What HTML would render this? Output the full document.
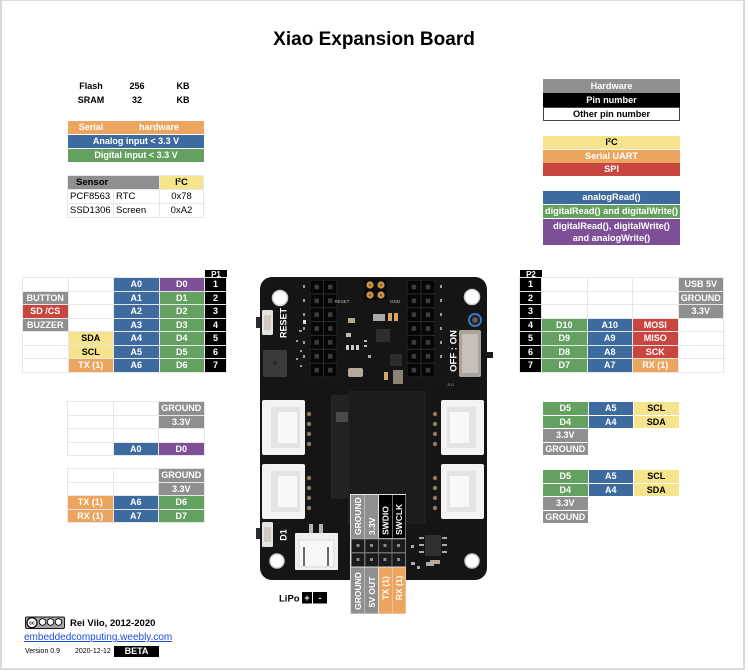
<!DOCTYPE html>
<html><head><meta charset="utf-8">
<style>
*{margin:0;padding:0;box-sizing:border-box}
body{width:748px;height:672px;background:#fff;position:relative;overflow:hidden;font-family:"Liberation Sans",Arial,sans-serif;color:#000}
.a{position:absolute}
.t{position:absolute;font-weight:bold;font-size:9px;text-align:center;white-space:nowrap}
.grid{position:absolute;display:grid;gap:1px;padding:1px;background:#e7e7e7}
.grid.nb{background:#fff}
.grid>div{background:#fff;font-weight:bold;font-size:9px;text-align:center;color:#fff;white-space:nowrap;overflow:hidden}
.o{background:#eba55e!important;color:#fff}
.b{background:#3d6b9f!important;color:#fff}
.g{background:#64a05f!important;color:#fff}
.p{background:#7d4f97!important;color:#fff}
.r{background:#c8463f!important;color:#fff}
.y{background:#f6e48c!important;color:#000!important}
.k{background:#000!important;color:#fff}
.h{background:#8f8f8f!important;color:#fff}
.bar{position:absolute;height:13px;line-height:13px;font-weight:bold;font-size:9px;text-align:center;color:#fff;white-space:nowrap}
</style></head><body>

<!-- frame -->
<div class="a" style="left:0;top:0;width:745px;height:670px;border-left:2px solid #dadada;border-top:1px solid #dadada;border-right:2px solid #dadada;border-bottom:2px solid #dadada"></div>

<!-- title -->
<div class="a" style="left:0;top:29px;width:748px;text-align:center;font-weight:bold;font-size:19px;line-height:22px">Xiao Expansion Board</div>

<!-- Flash / SRAM -->
<div class="t" style="left:68px;top:80px;width:46px;line-height:13px">Flash</div>
<div class="t" style="left:114px;top:80px;width:46px;line-height:13px">256</div>
<div class="t" style="left:160px;top:80px;width:46px;line-height:13px">KB</div>
<div class="t" style="left:68px;top:93.5px;width:46px;line-height:13px">SRAM</div>
<div class="t" style="left:114px;top:93.5px;width:46px;line-height:13px">32</div>
<div class="t" style="left:160px;top:93.5px;width:46px;line-height:13px">KB</div>

<!-- serial / analog / digital legend -->
<div class="bar o" style="left:68px;top:121px;width:136px"><span class="a" style="left:0;width:46px;text-align:center">Serial</span><span class="a" style="left:46px;width:90px;text-align:center">hardware</span></div>
<div class="bar b" style="left:68px;top:134.5px;width:136px">Analog input &lt; 3.3 V</div>
<div class="bar g" style="left:68px;top:148.5px;width:136px">Digital input &lt; 3.3 V</div>

<!-- sensor table -->
<div class="grid" style="left:67px;top:175px;grid-template-columns:45px 45px 43px;grid-auto-rows:13px;line-height:13px">
  <div class="h" style="grid-column:span 2;color:#000;text-align:left;padding-left:8px;font-size:9.5px">Sensor</div>
  <div class="y" style="font-size:9.5px">I²C</div>
  <div style="color:#000;font-weight:normal;text-align:left;padding-left:2px;font-size:9.5px">PCF8563</div>
  <div style="color:#000;font-weight:normal;text-align:left;padding-left:2px;font-size:9.5px">RTC</div>
  <div style="color:#000;font-weight:normal;font-size:9.5px">0x78</div>
  <div style="color:#000;font-weight:normal;text-align:left;padding-left:2px;font-size:9.5px">SSD1306</div>
  <div style="color:#000;font-weight:normal;text-align:left;padding-left:2px;font-size:9.5px">Screen</div>
  <div style="color:#000;font-weight:normal;font-size:9.5px">0xA2</div>
</div>

<!-- right legend -->
<div class="bar h" style="left:543px;top:79px;width:137px;height:14px;line-height:14px;font-size:9.2px">Hardware</div>
<div class="bar k" style="left:543px;top:93px;width:137px;height:14px;line-height:14px;font-size:9.2px">Pin number</div>
<div class="bar" style="left:543px;top:107px;width:137px;height:14px;line-height:12px;font-size:9.2px;color:#000;border:1px solid #444">Other pin number</div>

<div class="bar y" style="left:543px;top:136px;width:137px;font-size:9.2px">I²C</div>
<div class="bar o" style="left:543px;top:149.5px;width:137px;font-size:9.2px">Serial UART</div>
<div class="bar r" style="left:543px;top:163px;width:137px;font-size:9.2px">SPI</div>

<div class="bar b" style="left:543px;top:191px;width:137px;font-size:9.2px">analogRead()</div>
<div class="bar g" style="left:543px;top:204.5px;width:137px;font-size:9.2px">digitalRead() and digitalWrite()</div>
<div class="bar p" style="left:543px;top:218.5px;width:137px;height:26px;line-height:12px;padding-top:1px;font-size:9.2px">digitalRead(), digitalWrite()<br>and analogWrite()</div>

<!-- P1 table -->
<div class="bar k" style="left:205px;top:270px;width:22px;height:8.5px;line-height:9px;font-size:8px">P1</div>
<div class="grid" style="left:22px;top:277px;grid-template-columns:44.5px 44.5px 44.5px 44.5px 21px;grid-auto-rows:12.57px;line-height:12.6px">
  <div></div><div></div><div class="b">A0</div><div class="p">D0</div><div class="k">1</div>
  <div class="h">BUTTON</div><div></div><div class="b">A1</div><div class="g">D1</div><div class="k">2</div>
  <div class="r">SD /CS</div><div></div><div class="b">A2</div><div class="g">D2</div><div class="k">3</div>
  <div class="h">BUZZER</div><div></div><div class="b">A3</div><div class="g">D3</div><div class="k">4</div>
  <div></div><div class="y">SDA</div><div class="b">A4</div><div class="g">D4</div><div class="k">5</div>
  <div></div><div class="y">SCL</div><div class="b">A5</div><div class="g">D5</div><div class="k">6</div>
  <div></div><div class="o">TX (1)</div><div class="b">A6</div><div class="g">D6</div><div class="k">7</div>
</div>

<!-- P2 table -->
<div class="bar k" style="left:520px;top:270px;width:22px;height:8.5px;line-height:9px;font-size:8px">P2</div>
<div class="grid" style="left:519px;top:277px;grid-template-columns:21px 44.5px 44.5px 44.5px 44.5px;grid-auto-rows:12.57px;line-height:12.6px">
  <div class="k">1</div><div></div><div></div><div></div><div class="h">USB 5V</div>
  <div class="k">2</div><div></div><div></div><div></div><div class="h">GROUND</div>
  <div class="k">3</div><div></div><div></div><div></div><div class="h">3.3V</div>
  <div class="k">4</div><div class="g">D10</div><div class="b">A10</div><div class="r">MOSI</div><div></div>
  <div class="k">5</div><div class="g">D9</div><div class="b">A9</div><div class="r">MISO</div><div></div>
  <div class="k">6</div><div class="g">D8</div><div class="b">A8</div><div class="r">SCK</div><div></div>
  <div class="k">7</div><div class="g">D7</div><div class="b">A7</div><div class="o">RX (1)</div><div></div>
</div>

<!-- left grove tables -->
<div class="grid" style="left:67px;top:401px;grid-template-columns:44.5px 44.5px 44.5px;grid-auto-rows:12.5px;line-height:12.5px">
  <div></div><div></div><div class="h">GROUND</div>
  <div></div><div></div><div class="h">3.3V</div>
  <div></div><div></div><div></div>
  <div></div><div class="b">A0</div><div class="p">D0</div>
</div>
<div class="grid" style="left:67px;top:468px;grid-template-columns:44.5px 44.5px 44.5px;grid-auto-rows:12.5px;line-height:12.5px">
  <div></div><div></div><div class="h">GROUND</div>
  <div></div><div></div><div class="h">3.3V</div>
  <div class="o">TX (1)</div><div class="b">A6</div><div class="g">D6</div>
  <div class="o">RX (1)</div><div class="b">A7</div><div class="g">D7</div>
</div>

<!-- right grove tables -->
<div class="grid nb" style="left:542px;top:401px;grid-template-columns:44.5px 44.5px 44.5px;grid-auto-rows:12.5px;line-height:12.5px">
  <div class="g">D5</div><div class="b">A5</div><div class="y">SCL</div>
  <div class="g">D4</div><div class="b">A4</div><div class="y">SDA</div>
  <div class="h">3.3V</div><div></div><div></div>
  <div class="h">GROUND</div><div></div><div></div>
</div>
<div class="grid nb" style="left:542px;top:469px;grid-template-columns:44.5px 44.5px 44.5px;grid-auto-rows:12.5px;line-height:12.5px">
  <div class="g">D5</div><div class="b">A5</div><div class="y">SCL</div>
  <div class="g">D4</div><div class="b">A4</div><div class="y">SDA</div>
  <div class="h">3.3V</div><div></div><div></div>
  <div class="h">GROUND</div><div></div><div></div>
</div>

<!-- board -->
<svg class="a" style="left:0;top:0" width="748" height="672" viewBox="0 0 748 672" font-family="Liberation Sans, Arial, sans-serif">
  <defs>
    <pattern id="sockL" x="310" y="280" width="13.5" height="13.86" patternUnits="userSpaceOnUse">
      <rect x="0" y="0" width="13.5" height="13.86" fill="#060606" stroke="#2a2a2a" stroke-width="1"/>
      <rect x="4.5" y="4.7" width="4.5" height="4.5" fill="#3d3d3d"/>
    </pattern>
    <pattern id="sockR" x="407" y="280" width="14" height="13.86" patternUnits="userSpaceOnUse">
      <rect x="0" y="0" width="14" height="13.86" fill="#060606" stroke="#2a2a2a" stroke-width="1"/>
      <rect x="4.7" y="4.7" width="4.5" height="4.5" fill="#3d3d3d"/>
    </pattern>
  </defs>
  <!-- tabs -->
  <rect x="256" y="317" width="7" height="11" fill="#2a2a2a"/>
  <rect x="256" y="528" width="7" height="11" fill="#2a2a2a"/>
  <rect x="483" y="352" width="10" height="6" fill="#1b1b1b"/>
  <!-- body -->
  <rect x="260" y="277" width="227" height="303" rx="12" fill="#151515"/>
  <!-- holes -->
  <g fill="#fff" stroke="#cfcfcf" stroke-width="1.5">
    <circle cx="280" cy="298" r="7.5"/>
    <circle cx="472" cy="297" r="7.5"/>
    <circle cx="277" cy="561" r="7"/>
    <circle cx="472" cy="561" r="7"/>
  </g>
  <!-- reset button -->
  <rect x="262" y="310" width="11" height="25" rx="1.5" fill="#e6e4e1"/>
  <rect x="264" y="315" width="7" height="15" fill="#cfcac4"/>
  <text transform="translate(286.5,323) rotate(-90)" text-anchor="middle" font-size="9" font-weight="bold" fill="#fff">RESET</text>
  <!-- buzzer -->
  <rect x="263" y="350" width="24" height="27" rx="1" fill="#3a3a3a"/>
  <circle cx="275" cy="363" r="2" fill="#2a2a2a"/>
  <!-- headers -->
  <rect x="310" y="280" width="27" height="97" fill="url(#sockL)"/>
  <rect x="407" y="280" width="28" height="97" fill="url(#sockR)"/>
  <!-- tiny pin labels -->
  <g fill="#9a9a9a">
    <rect x="303" y="285" width="2" height="3"/><rect x="303" y="299" width="2" height="3"/>
    <rect x="303" y="313" width="2" height="3"/><rect x="303" y="327" width="2" height="3"/>
    <rect x="303" y="341" width="2" height="3"/><rect x="303" y="355" width="2" height="3"/>
    <rect x="440" y="285" width="2" height="3"/><rect x="440" y="299" width="2" height="3"/>
    <rect x="440" y="313" width="2" height="3"/><rect x="440" y="327" width="2" height="3"/>
    <rect x="440" y="341" width="2" height="3"/><rect x="440" y="355" width="2" height="3"/>
    <rect x="299" y="330" width="3" height="2"/><rect x="296" y="340" width="2" height="2"/>
    <rect x="300" y="350" width="2" height="2"/><rect x="296" y="358" width="2" height="2"/>
    <rect x="300" y="365" width="2" height="2"/>
  </g>
  <rect x="303" y="320" width="3" height="4" fill="#ddd"/>
  <!-- gold pins -->
  <rect x="364" y="279" width="23" height="21" fill="#0c0c0c"/>
  <g fill="#c99547">
    <circle cx="370" cy="285" r="3.6"/><circle cx="381" cy="285" r="3.6"/>
    <circle cx="370" cy="295" r="3.6"/><circle cx="381" cy="295" r="3.6"/>
  </g>
  <g fill="#8a6328">
    <circle cx="370" cy="285" r="1.3"/><circle cx="381" cy="285" r="1.3"/>
    <circle cx="370" cy="295" r="1.3"/><circle cx="381" cy="295" r="1.3"/>
  </g>
  <text x="342" y="303" font-size="4.5" fill="#bbb" text-anchor="middle">RESET</text>
  <text x="395" y="303" font-size="4.5" fill="#bbb" text-anchor="middle">GND</text>
  <!-- components -->
  <rect x="348" y="318" width="7" height="5" fill="#b8a98e"/>
  <rect x="373" y="314" width="12" height="7" fill="#a9a9a9"/>
  <rect x="388" y="313" width="4" height="8" fill="#d9a46a"/>
  <rect x="394" y="313" width="4" height="8" fill="#d9a46a"/>
  <rect x="376" y="329" width="14" height="13" fill="#2e2e2e"/>
  <rect x="346" y="333" width="5" height="4" fill="#bbb"/>
  <rect x="346" y="345" width="3" height="5" fill="#ccc"/>
  <rect x="351" y="345" width="3" height="5" fill="#ccc"/>
  <rect x="356" y="345" width="3" height="5" fill="#ccc"/>
  <rect x="348" y="368" width="15" height="9" rx="2" fill="#b5aa9c"/>
  <rect x="390" y="354" width="12" height="12" fill="#2c2c2c"/>
  <rect x="393" y="370" width="10" height="14" fill="#8c8276"/>
  <rect x="384" y="372" width="4" height="8" fill="#d9a46a"/>
  <rect x="364" y="340" width="3" height="2" fill="#bbb"/>
  <rect x="364" y="345" width="3" height="2" fill="#bbb"/>
  <rect x="368" y="355" width="3" height="3" fill="#aaa"/>
  <!-- switch -->
  <rect x="459" y="330" width="22" height="47" rx="2" fill="#a9a39c"/>
  <rect x="462" y="334" width="16" height="39" rx="1" fill="#c6c0b8"/>
  <text transform="translate(456.5,351) rotate(-90)" text-anchor="middle" font-size="9.5" font-weight="bold" fill="#fff">OFF : ON</text>
  <text x="447" y="386" font-size="4" fill="#999">JUJ</text>
  <!-- blue circle -->
  <circle cx="475" cy="320" r="6" fill="#1a1a1a" stroke="#3a78c0" stroke-width="2"/>
  <circle cx="475" cy="320" r="3" fill="#5a5a5a"/>
  <!-- xiao module -->
  <rect x="331" y="395" width="18" height="104" fill="#232323"/>
  <rect x="336" y="412" width="12" height="10" fill="#4a4a4a"/>
  <rect x="348" y="391" width="78" height="133" fill="#1f1f1f"/>
  <rect x="350" y="393" width="74" height="129" fill="#1c1c1c"/>
  <!-- grove connectors -->
  <g>
    <rect x="262" y="400" width="43" height="55" rx="2" fill="#f3f3f3"/>
    <rect x="271" y="407" width="29" height="41" fill="#e4e4e4"/>
    <rect x="278" y="412" width="19" height="31" fill="#f8f8f8"/>
    <rect x="262" y="464" width="43" height="55" rx="2" fill="#f3f3f3"/>
    <rect x="271" y="471" width="29" height="41" fill="#e4e4e4"/>
    <rect x="278" y="476" width="19" height="31" fill="#f8f8f8"/>
    <rect x="441" y="400" width="43" height="55" rx="2" fill="#f3f3f3"/>
    <rect x="447" y="407" width="29" height="41" fill="#e4e4e4"/>
    <rect x="450" y="412" width="19" height="31" fill="#f8f8f8"/>
    <rect x="441" y="464" width="43" height="55" rx="2" fill="#f3f3f3"/>
    <rect x="447" y="471" width="29" height="41" fill="#e4e4e4"/>
    <rect x="450" y="476" width="19" height="31" fill="#f8f8f8"/>
  </g>
  <g fill="#8d7b56">
    <circle cx="309" cy="414" r="2.2"/><circle cx="309" cy="424" r="2.2"/><circle cx="309" cy="434" r="2.2"/><circle cx="309" cy="444" r="2.2"/>
    <circle cx="309" cy="478" r="2.2"/><circle cx="309" cy="488" r="2.2"/><circle cx="309" cy="498" r="2.2"/><circle cx="309" cy="508" r="2.2"/>
    <circle cx="435" cy="414" r="2.2"/><circle cx="435" cy="424" r="2.2"/><circle cx="435" cy="434" r="2.2"/><circle cx="435" cy="444" r="2.2"/>
    <circle cx="435" cy="478" r="2.2"/><circle cx="435" cy="488" r="2.2"/><circle cx="435" cy="498" r="2.2"/><circle cx="435" cy="508" r="2.2"/>
  </g>
  <!-- D1 button -->
  <rect x="262" y="522" width="11" height="25" rx="1.5" fill="#e6e4e1"/>
  <rect x="264" y="527" width="7" height="15" fill="#cfcac4"/>
  <text transform="translate(286.5,535) rotate(-90)" text-anchor="middle" font-size="9" font-weight="bold" fill="#fff">D1</text>
  <!-- battery connector -->
  <rect x="309" y="524" width="4" height="11" fill="#b5b5b5"/>
  <rect x="319" y="524" width="4" height="11" fill="#b5b5b5"/>
  <rect x="295" y="533" width="43" height="37" rx="1" fill="#efefef"/>
  <rect x="299" y="540" width="35" height="27" fill="#f7f7f7" stroke="#d8d8d8" stroke-width="1"/>
  <rect x="303" y="547" width="2" height="19" fill="#6a6a6a"/>
  <rect x="327" y="547" width="2" height="19" fill="#6a6a6a"/>
  <!-- bottom right chip -->
  <rect x="425" y="535" width="16" height="21" fill="#303030"/>
  <g fill="#aaa">
    <rect x="419" y="537" width="5" height="2"/><rect x="419" y="544" width="5" height="2"/><rect x="419" y="551" width="5" height="2"/>
    <rect x="442" y="537" width="5" height="2"/><rect x="442" y="544" width="5" height="2"/><rect x="442" y="551" width="5" height="2"/>
    <rect x="411" y="562" width="4" height="3"/><rect x="417" y="566" width="3" height="3"/>
    <rect x="426" y="562" width="8" height="4"/><rect x="411" y="545" width="3" height="3"/>
  </g>
  <rect x="430" y="560" width="10" height="4" fill="#b5aa9c"/>

  <!-- bottom connector labels -->
  <rect x="350" y="494" width="56" height="120" fill="#e2e2e2"/>
  <rect x="351" y="495" width="13.5" height="43" fill="#8f8f8f"/>
  <rect x="365" y="495" width="13" height="43" fill="#8f8f8f"/>
  <rect x="379" y="495" width="13" height="43" fill="#000"/>
  <rect x="392.5" y="495" width="13" height="43" fill="#000"/>
  <rect x="351" y="538.5" width="54.5" height="28" fill="#141414"/>
  <g fill="#1b1b1b" stroke="#7a7a7a" stroke-width="0.8">
    <rect x="351.5" y="539" width="13" height="13.5"/><rect x="365" y="539" width="13.5" height="13.5"/>
    <rect x="378.5" y="539" width="13.5" height="13.5"/><rect x="392" y="539" width="13.5" height="13.5"/>
    <rect x="351.5" y="553" width="13" height="13.5"/><rect x="365" y="553" width="13.5" height="13.5"/>
    <rect x="378.5" y="553" width="13.5" height="13.5"/><rect x="392" y="553" width="13.5" height="13.5"/>
  </g>
  <g fill="#8a8a8a">
    <rect x="356.5" y="544" width="3" height="3"/><rect x="370" y="544" width="3" height="3"/>
    <rect x="383.5" y="544" width="3" height="3"/><rect x="397" y="544" width="3" height="3"/>
    <rect x="356.5" y="558" width="3" height="3"/><rect x="370" y="558" width="3" height="3"/>
    <rect x="383.5" y="558" width="3" height="3"/><rect x="397" y="558" width="3" height="3"/>
  </g>
  <rect x="351" y="567.5" width="13.5" height="46" fill="#8f8f8f"/>
  <rect x="365" y="567.5" width="13" height="46" fill="#8f8f8f"/>
  <rect x="379" y="567.5" width="13" height="46" fill="#eba55e"/>
  <rect x="392.5" y="567.5" width="13" height="46" fill="#eba55e"/>
  <g font-size="8.5" font-weight="bold" fill="#fff">
    <text transform="translate(361,535) rotate(-90)">GROUND</text>
    <text transform="translate(375,535) rotate(-90)">3.3V</text>
    <text transform="translate(388.5,535) rotate(-90)">SWDIO</text>
    <text transform="translate(402,535) rotate(-90)">SWCLK</text>
    <text transform="translate(361,591) rotate(-90)" text-anchor="middle">GROUND</text>
    <text transform="translate(375,592) rotate(-90)" text-anchor="middle">5V OUT</text>
    <text transform="translate(388.5,588) rotate(-90)" text-anchor="middle">TX (1)</text>
    <text transform="translate(402,588) rotate(-90)" text-anchor="middle">RX (1)</text>
  </g>

  <!-- LiPo -->
  <text x="279" y="601.5" font-size="9.5" font-weight="bold" fill="#000">LiPo</text>
  <rect x="302" y="592" width="10" height="11.5" fill="#000"/>
  <rect x="313" y="592" width="14" height="11.5" fill="#000"/>
  <text x="307" y="601" font-size="9" font-weight="bold" fill="#fff" text-anchor="middle">+</text>
  <text x="320" y="601" font-size="9" font-weight="bold" fill="#fff" text-anchor="middle">-</text>

  <!-- CC icon -->
  <rect x="25.5" y="617" width="39" height="11.5" rx="1.5" fill="#a5a5a5" stroke="#1a1a1a" stroke-width="1"/>
  <circle cx="32" cy="622.7" r="5" fill="#fff" stroke="#000" stroke-width="1.2"/>
  <text x="32" y="624.6" font-size="5" font-weight="bold" text-anchor="middle" fill="#000">cc</text>
  <circle cx="42.5" cy="622" r="3.3" fill="#fff" stroke="#000" stroke-width="0.9"/>
  <circle cx="50.5" cy="622" r="3.3" fill="#fff" stroke="#000" stroke-width="0.9"/>
  <circle cx="58.5" cy="622" r="3.3" fill="#fff" stroke="#000" stroke-width="0.9"/>
</svg>

<!-- footer -->
<div class="a" style="left:70px;top:618px;font-weight:bold;font-size:9.5px;line-height:12px;white-space:nowrap">Rei Vilo, 2012-2020</div>
<div class="a" style="left:24px;top:632px;font-size:10px;line-height:12px;color:#1a4fd8;text-decoration:underline;white-space:nowrap">embeddedcomputing.weebly.com</div>
<div class="a" style="left:25px;top:647px;font-size:7px;line-height:10px;white-space:nowrap">Version 0.9</div>
<div class="a" style="left:75px;top:647px;font-size:7px;line-height:10px;white-space:nowrap">2020-12-12</div>
<div class="a" style="left:114px;top:646px;width:45px;height:10.5px;background:#000;color:#fff;font-weight:bold;font-size:9px;line-height:11px;text-align:center">BETA</div>

</body></html>
